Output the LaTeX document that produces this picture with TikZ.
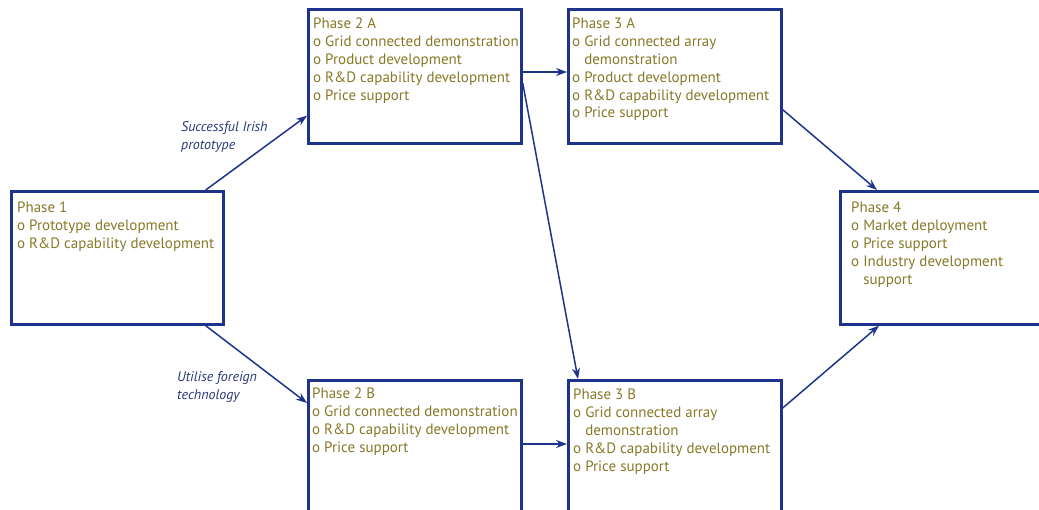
\documentclass[tikz,border=0pt]{standalone}
\usepackage{fontspec}
\setmainfont{PT Sans}
\usetikzlibrary{arrows.meta}
\definecolor{boxblue}{RGB}{30,52,140}
\definecolor{olive}{RGB}{135,120,40}
\definecolor{labelblue}{RGB}{40,56,120}
\newcommand{\ind}{\hphantom{o}\ }
\begin{document}
\begin{tikzpicture}[x=1pt, y=-1pt,
    phasebox/.style={draw=boxblue, line width=2.7pt, rectangle, inner sep=0pt,
        anchor=north west, minimum width=213pt, minimum height=134pt},
    phasetext/.style={anchor=north west, inner sep=0pt, align=left, text=olive,
        font=\fontsize{15}{17.8}\selectfont},
    pathlabel/.style={anchor=north west, inner sep=0pt, align=left, text=labelblue,
        font=\fontsize{14}{18.5}\selectfont\itshape},
    flow/.style={draw=boxblue, line width=1.5pt, -{Stealth[length=11pt,width=8pt]}}]
    \useasboundingbox (0, 0) rectangle (1039, 510);
    \clip (0, 0) rectangle (1039, 510);
    % phase boxes
    \node [phasebox, minimum width=212pt, minimum height=133pt] (p1) at (10, 190) {};
    \node [phasebox] (p2a) at (307, 8) {};
    \node [phasebox] (p3a) at (567, 8) {};
    \node [phasebox, minimum width=220pt, minimum height=133pt] (p4) at (839, 190) {};
    \node [phasebox, minimum height=170pt] (p2b) at (307, 379) {};
    \node [phasebox, minimum height=170pt] (p3b) at (567, 379) {};
    % box texts
    \node [phasetext] (t1) at ([shift={(7,12)}]p1.north west)
        {Phase 1\\o Prototype development\\o R\&D capability development};
    \node [phasetext] (t2a) at ([shift={(6,10)}]p2a.north west)
        {Phase 2 A\\o Grid connected demonstration\\o Product development\\
         o R\&D capability development\\o Price support};
    \node [phasetext] (t3a) at ([shift={(5,10)}]p3a.north west)
        {Phase 3 A\\o Grid connected array\\\ind demonstration\\o Product development\\
         o R\&D capability development\\o Price support};
    \node [phasetext] (t4) at ([shift={(12,12)}]p4.north west)
        {Phase 4\\o Market deployment\\o Price support\\o Industry development\\
         \ind support};
    \node [phasetext] (t2b) at ([shift={(5,9)}]p2b.north west)
        {Phase 2 B\\o Grid connected demonstration\\o R\&D capability development\\
         o Price support};
    \node [phasetext] (t3b) at ([shift={(6,10)}]p3b.north west)
        {Phase 3 B\\o Grid connected array\\\ind demonstration\\
         o R\&D capability development\\o Price support};
    % route labels
    \node [pathlabel] (lirish) at (181, 121) {Successful Irish\\prototype};
    \node [pathlabel] (lforeign) at (177, 371) {Utilise foreign\\technology};
    % connectors
    \draw [flow] ([xshift=-19pt]p1.north east) -- ([yshift=29pt]p2a.south west);
    \draw [flow] ([xshift=-19pt]p1.south east) -- ([yshift=-24pt]p2b.north west);
    \draw [flow] ([yshift=-64pt]p2a.north east) -- ([yshift=-64pt]p3a.north west);
    \draw [flow] ([yshift=-75pt]p2a.north east) -- ([xshift=11pt]p3b.north west);
    \draw [flow] ([yshift=-65pt]p2b.north east) -- ([yshift=-65pt]p3b.north west);
    \draw [flow] ([yshift=35pt]p3a.south east) -- ([xshift=38pt]p4.north west);
    \draw [flow] ([yshift=-29pt]p3b.north east) -- ([xshift=40pt]p4.south west);
\end{tikzpicture}
\end{document}
